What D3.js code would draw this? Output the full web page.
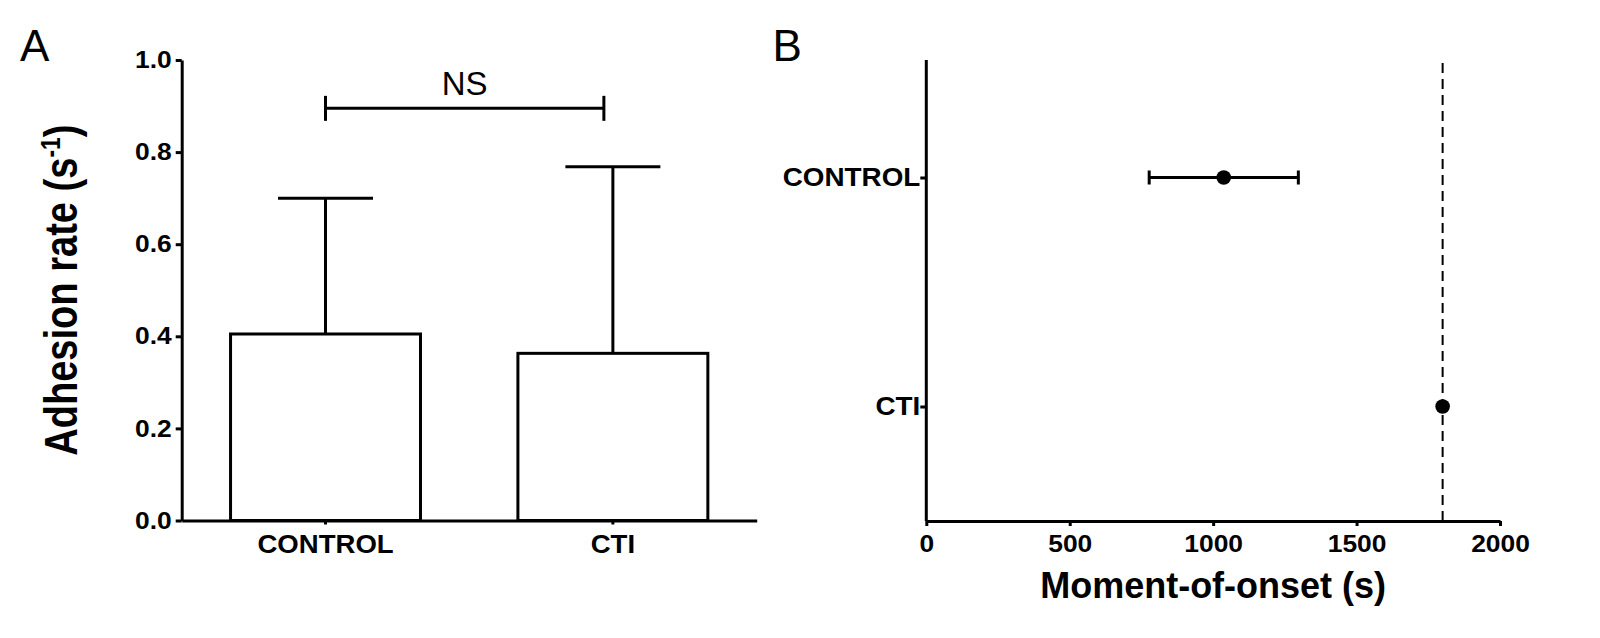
<!DOCTYPE html>
<html>
<head>
<meta charset="utf-8">
<script src="https://cdn.jsdelivr.net/npm/d3@7"></script>
<style>
	html, body { margin: 0; padding: 0; background: #fff; }
	svg { display: block; }
	text { font-family: "Liberation Sans", Arial, sans-serif; fill: #000; }
</style>
</head>
<body>
<div id="chart"></div>
<script>
// panel A : adhesion rate
const groupsA = ["CONTROL", "CTI"];
const adhesionMean = [0.405, 0.363];
const adhesionSD = [0.295, 0.405];
const yTicksA = [0, 0.2, 0.4, 0.6, 0.8, 1.0];
const nsLevel = 0.895;

// panel B : moment of onset
const groupsB = ["CONTROL", "CTI"];
const onsetMean = [1037, 1800];
const onsetErr = [260, 0];
const xTicksB = [0, 500, 1000, 1500, 2000];
const cutoff = 1800;

const width = 1600;
const height = 638;

const svg = d3.select("#chart")
	.append("svg")
	.attr("width", width)
	.attr("height", height);

// stretch text a little wider, the original glyphs are wider than Arial
function widen(sel, f) {
	sel.each(function () {
		const w = this.getComputedTextLength();
		this.setAttribute("textLength", w * f);
		this.setAttribute("lengthAdjust", "spacingAndGlyphs");
	});
}

function styleAxis(g, size, f) {
	g.select(".domain").attr("stroke-width", 3).attr("stroke", "#000");
	g.selectAll(".tick line").attr("stroke-width", 3).attr("stroke", "#000");
	g.selectAll(".tick text")
		.attr("font-size", size)
		.attr("font-weight", "bold")
		.attr("font-family", null)
		.attr("fill", "#000");
	widen(g.selectAll(".tick text"), f);
}

// ---------- panel A ----------
const xA = d3.scaleBand()
	.domain(groupsA)
	.range([181.7, 756.7])
	.paddingInner(0.339)
	.paddingOuter(0.17);

const yA = d3.scaleLinear()
	.domain([0, 1])
	.range([520.5, 60]);

const barsA = groupsA.map((g, i) => ({ g: g, mean: adhesionMean[i], sd: adhesionSD[i] }));

const gA = svg.append("g");

// error bars (upper only) drawn first, bars cover the lower part
gA.selectAll(".errA")
	.data(barsA)
	.enter()
	.append("line")
	.attr("x1", d => xA(d.g) + xA.bandwidth() / 2)
	.attr("x2", d => xA(d.g) + xA.bandwidth() / 2)
	.attr("y1", d => yA(d.mean))
	.attr("y2", d => yA(d.mean + d.sd))
	.attr("stroke", "#000")
	.attr("stroke-width", 3);

gA.selectAll(".capA")
	.data(barsA)
	.enter()
	.append("line")
	.attr("x1", d => xA(d.g) + xA.bandwidth() / 4)
	.attr("x2", d => xA(d.g) + xA.bandwidth() * 3 / 4)
	.attr("y1", d => yA(d.mean + d.sd))
	.attr("y2", d => yA(d.mean + d.sd))
	.attr("stroke", "#000")
	.attr("stroke-width", 3);

gA.selectAll("rect")
	.data(barsA)
	.enter()
	.append("rect")
	.attr("x", d => xA(d.g))
	.attr("y", d => yA(d.mean))
	.attr("width", xA.bandwidth())
	.attr("height", d => yA(0) - yA(d.mean))
	.attr("fill", "#fff")
	.attr("stroke", "#000")
	.attr("stroke-width", 3);

// axes
const axA_y = gA.append("g")
	.attr("transform", `translate(${xA.range()[0]},0)`)
	.call(d3.axisLeft(yA).tickValues(yTicksA).tickFormat(d3.format(".1f")).tickSize(6).tickSizeOuter(0).tickPadding(4));
styleAxis(axA_y, 24, 1.1);

const axA_x = gA.append("g")
	.attr("transform", `translate(0,${yA(0)})`)
	.call(d3.axisBottom(xA).tickSize(4).tickSizeOuter(0).tickPadding(10));
styleAxis(axA_x, 26, 1.06);

// NS bracket
const bx1 = xA("CONTROL") + xA.bandwidth() / 2;
const bx2 = xA("CTI") + xA.bandwidth() / 2 - 9;
const by = yA(nsLevel);
gA.append("line").attr("x1", bx1).attr("x2", bx2).attr("y1", by).attr("y2", by)
	.attr("stroke", "#000").attr("stroke-width", 3);
[bx1, bx2].forEach(x => {
	gA.append("line").attr("x1", x).attr("x2", x).attr("y1", by - 12.5).attr("y2", by + 12.5)
		.attr("stroke", "#000").attr("stroke-width", 3);
});
gA.append("text")
	.attr("x", (bx1 + bx2) / 2)
	.attr("y", by - 13)
	.attr("text-anchor", "middle")
	.attr("font-size", 33)
	.text("NS");

// y title
const titleA = gA.append("text")
	.attr("transform", `translate(77,${(yA.range()[0] + yA.range()[1]) / 2}) rotate(-90)`)
	.attr("text-anchor", "middle")
	.attr("font-size", 47)
	.attr("font-weight", "bold");
titleA.append("tspan").text("Adhesion rate (s");
titleA.append("tspan").attr("font-size", 28).attr("dy", -17).text("-1");
titleA.append("tspan").attr("dy", 17).text(")");
widen(titleA, 0.81);

svg.append("text")
	.attr("x", 20)
	.attr("y", 61)
	.attr("font-size", 44)
	.text("A");

// ---------- panel B ----------
const xB = d3.scaleLinear()
	.domain([0, 2000])
	.range([926.3, 1500]);

const yB = d3.scalePoint()
	.domain(groupsB)
	.range([63, 521])
	.padding(0.5);

const ptsB = groupsB.map((g, i) => ({ g: g, mean: onsetMean[i], err: onsetErr[i] }));

const gB = svg.append("g");

// dashed cut-off line
gB.append("line")
	.attr("x1", xB(cutoff))
	.attr("x2", xB(cutoff))
	.attr("y1", yB.range()[0])
	.attr("y2", yB.range()[1])
	.attr("stroke", "#000")
	.attr("stroke-width", 2)
	.attr("stroke-dasharray", "10,6");

const errB = ptsB.filter(d => d.err > 0);

gB.selectAll(".errB")
	.data(errB)
	.enter()
	.append("line")
	.attr("x1", d => xB(d.mean - d.err))
	.attr("x2", d => xB(d.mean + d.err))
	.attr("y1", d => yB(d.g))
	.attr("y2", d => yB(d.g))
	.attr("stroke", "#000")
	.attr("stroke-width", 3);

errB.forEach(d => {
	[d.mean - d.err, d.mean + d.err].forEach(v => {
		gB.append("line")
			.attr("x1", xB(v)).attr("x2", xB(v))
			.attr("y1", yB(d.g) - 7).attr("y2", yB(d.g) + 7)
			.attr("stroke", "#000").attr("stroke-width", 3);
	});
});

gB.selectAll("circle")
	.data(ptsB)
	.enter()
	.append("circle")
	.attr("cx", d => xB(d.mean))
	.attr("cy", d => yB(d.g))
	.attr("r", 7.3)
	.attr("fill", "#000");

const axB_y = gB.append("g")
	.attr("transform", `translate(${xB(0)},0)`)
	.call(d3.axisLeft(yB).tickSize(6).tickSizeOuter(0).tickPadding(0));
styleAxis(axB_y, 26, 1.07);
axB_y.select(".domain").attr("d", `M0,60V${yB.range()[1]}`);

const axB_x = gB.append("g")
	.attr("transform", `translate(0,${yB.range()[1]})`)
	.call(d3.axisBottom(xB).tickValues(xTicksB).tickFormat(d3.format("d")).tickSize(5).tickSizeOuter(0).tickPadding(9));
styleAxis(axB_x, 24, 1.1);

gB.append("text")
	.attr("x", (xB.range()[0] + xB.range()[1]) / 2)
	.attr("y", 598.3)
	.attr("text-anchor", "middle")
	.attr("font-size", 36)
	.attr("font-weight", "bold")
	.text("Moment-of-onset (s)");

svg.append("text")
	.attr("x", 772.5)
	.attr("y", 61)
	.attr("font-size", 44)
	.text("B");
</script>
</body>
</html>
